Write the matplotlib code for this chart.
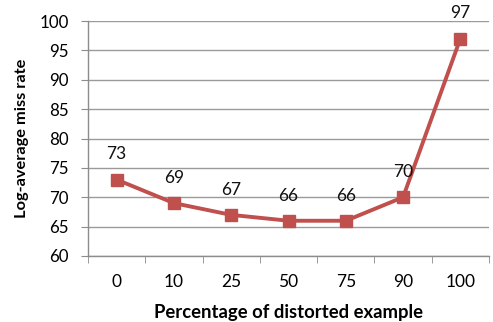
import matplotlib
matplotlib.use("Agg")
import matplotlib.pyplot as plt
from matplotlib.ticker import FixedLocator

categories = ["0", "10", "25", "50", "75", "90", "100"]
miss_rate = [73, 69, 67, 66, 66, 70, 97]
y_ticks = [60, 65, 70, 75, 80, 85, 90, 95, 100]

plt.rcParams["font.family"] = ["Lato", "DejaVu Sans"]

fig = plt.figure(figsize=(4.93, 3.22), dpi=100)
ax = fig.add_axes([88 / 493, 1 - 256 / 322, (489 - 88) / 493, (256 - 21) / 322])

red = "#C0504D"
x = list(range(len(categories)))
ax.plot(x, miss_rate, color=red, lw=2.8, marker="s", ms=8.5,
        markerfacecolor=red, markeredgecolor=red, zorder=3, clip_on=False)

for xi, v in zip(x, miss_rate):
    ax.annotate(str(v), (xi, v), xytext=(0, 14.5), textcoords="offset points",
                ha="center", va="baseline", fontsize=12.5, color="#111111")

ax.set_xlim(-0.5, len(categories) - 0.5)
ax.set_ylim(60, 100)
ax.set_yticks(y_ticks)
ax.set_xticks(x)
ax.set_xticklabels(categories)
ax.xaxis.set_minor_locator(FixedLocator([i - 0.5 for i in range(len(categories) + 1)]))

ax.grid(axis="y", color="#9a9a9a", lw=1.0)
ax.set_axisbelow(True)
for s in ("top", "right"):
    ax.spines[s].set_visible(False)
for s in ("left", "bottom"):
    ax.spines[s].set_color("#8c8c8c")
    ax.spines[s].set_linewidth(1.0)

ax.tick_params(axis="y", which="major", length=5, color="#8c8c8c", labelsize=12.2, pad=9)
ax.tick_params(axis="x", which="major", length=0, labelsize=12.5, pad=13)
ax.tick_params(axis="x", which="minor", length=5, color="#8c8c8c")

ax.set_xlabel("Percentage of distorted example", fontsize=13.3, fontweight="bold", labelpad=10)
ax.set_ylabel("Log-average miss rate", fontsize=11.8, fontweight="bold", labelpad=7)

fig.savefig("out.png", dpi=100)
